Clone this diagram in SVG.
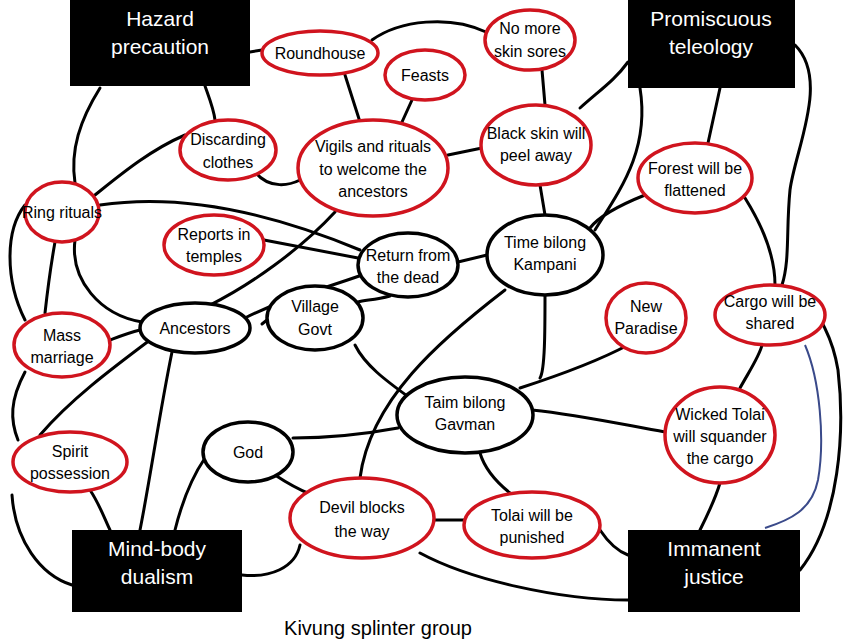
<svg xmlns="http://www.w3.org/2000/svg" width="850" height="640" viewBox="0 0 850 640">
<style>
.c{fill:none;stroke:#000;stroke-width:3;stroke-linecap:round}
.r{fill:#fff;stroke:#d0141e;stroke-width:3.5}
.k{fill:#fff;stroke:#000;stroke-width:3.5}
.b{fill:#000}
text{font-family:"Liberation Sans",Arial,sans-serif;font-size:16px;text-anchor:middle;fill:#000}
.w{fill:#fff;font-size:21px}
</style>
<rect width="850" height="640" fill="#fff"/>
<g id="connectors">
<path class="c" d="M100,88 C80,120 70,150 75,183"/>
<path class="c" d="M250,52 L262,50"/>
<path class="c" d="M345,75 L360,122"/>
<path class="c" d="M412,100 L402,122"/>
<path class="c" d="M372,40 C400,20 450,15 486,32"/>
<path class="c" d="M542,70 L545,105"/>
<path class="c" d="M580,108 C600,90 615,80 628,62"/>
<path class="c" d="M448,155 L482,148"/>
<path class="c" d="M720,88 L708,143"/>
<path class="c" d="M795,45 C830,80 795,150 790,190 C786,230 790,260 782,285"/>
<path class="c" d="M645,195 C620,205 600,215 590,228"/>
<path class="c" d="M745,198 C765,230 775,260 775,285"/>
<path class="c" d="M487,255 L458,262"/>
<path class="c" d="M358,258 L264,240"/>
<path class="c" d="M360,250 C300,225 200,190 100,205"/>
<path class="c" d="M185,135 C150,150 120,175 95,195"/>
<path class="c" d="M255,172 C270,190 290,185 300,180"/>
<path class="c" d="M335,212 C300,250 250,285 210,305"/>
<path class="c" d="M362,275 C320,290 280,300 245,318"/>
<path class="c" d="M390,296 C375,300 365,300 358,302"/>
<path class="c" d="M505,290 C440,340 370,400 360,478"/>
<path class="c" d="M545,295 C545,330 545,370 540,378"/>
<path class="c" d="M545,215 L540,185"/>
<path class="c" d="M628,345 C600,360 560,375 520,388"/>
<path class="c" d="M532,410 C580,415 625,425 665,432"/>
<path class="c" d="M480,453 C485,470 500,485 510,493"/>
<path class="c" d="M398,428 C360,435 320,438 293,438"/>
<path class="c" d="M410,398 C385,380 365,365 355,345"/>
<path class="c" d="M740,388 C750,370 760,355 762,345"/>
<path class="c" d="M720,483 C715,500 705,520 700,530"/>
<path class="c" d="M600,530 C610,545 620,552 628,555"/>
<path class="c" d="M434,520 L464,520"/>
<path class="c" d="M275,475 C290,485 300,490 312,495"/>
<path class="c" d="M205,458 C190,480 180,510 175,530"/>
<path class="c" d="M242,575 C270,578 295,568 300,545"/>
<path class="c" d="M172,352 C160,410 150,480 140,530"/>
<path class="c" d="M150,340 C110,370 70,400 40,435"/>
<path class="c" d="M140,330 C128,333 118,337 110,340"/>
<path class="c" d="M55,242 C50,270 47,295 45,313"/>
<path class="c" d="M75,240 C70,280 100,315 142,322"/>
<path class="c" d="M25,205 C5,230 5,280 25,320"/>
<path class="c" d="M90,490 C100,505 105,520 110,530"/>
<path class="c" d="M25,372 C10,400 10,420 18,440"/>
<path class="c" d="M800,570 C840,520 845,430 838,370 C833,340 825,330 822,322"/>
<path class="c" d="M628,600 C560,600 470,580 420,553"/>
<path class="c" d="M72,585 C40,575 15,540 12,495"/>
<path class="c" d="M267,320 L262,324"/>
<path class="c" d="M205,86 C210,100 214,110 215,120"/>
<path class="c" d="M595,230 C620,190 650,150 640,88"/>
<path fill="none" stroke="#3a4a8a" stroke-width="2" d="M805,345 C820,380 825,440 818,480 C812,510 790,520 765,528"/>
</g>
<g id="hazard"><rect class="b" x="70" y="0" width="180" height="86"/><text class="w" x="160" y="26">Hazard</text><text class="w" x="160" y="54">precaution</text></g>
<g id="promiscuous"><rect class="b" x="628" y="0" width="167" height="88"/><text class="w" x="711" y="26">Promiscuous</text><text class="w" x="711" y="54">teleology</text></g>
<g id="mindbody"><rect class="b" x="72" y="530" width="170" height="82"/><text class="w" x="157" y="556">Mind-body</text><text class="w" x="157" y="584">dualism</text></g>
<g id="immanent"><rect class="b" x="628" y="530" width="172" height="82"/><text class="w" x="714" y="556">Immanent</text><text class="w" x="714" y="584">justice</text></g>
<g id="roundhouse"><ellipse class="r" cx="320" cy="53" rx="58" ry="22"/><text x="320" y="59">Roundhouse</text></g>
<g id="feasts"><ellipse class="r" cx="425" cy="75" rx="40" ry="25"/><text x="425" y="81">Feasts</text></g>
<g id="skinsores"><ellipse class="r" cx="530" cy="40" rx="45" ry="30"/><text x="530" y="34">No more</text><text x="530" y="57">skin sores</text></g>
<g id="discarding"><ellipse class="r" cx="228" cy="150" rx="48" ry="30"/><text x="228" y="145">Discarding</text><text x="228" y="168">clothes</text></g>
<g id="vigils"><ellipse class="r" cx="373" cy="168" rx="75" ry="48"/><text x="373" y="152">Vigils and rituals</text><text x="373" y="175">to welcome the</text><text x="373" y="197">ancestors</text></g>
<g id="blackskin"><ellipse class="r" cx="536" cy="145" rx="55" ry="40"/><text x="536" y="139">Black skin will</text><text x="536" y="161">peel away</text></g>
<g id="forest"><ellipse class="r" cx="695" cy="178" rx="57" ry="35"/><text x="695" y="174">Forest will be</text><text x="695" y="196">flattened</text></g>
<g id="ring"><ellipse class="r" cx="62" cy="212" rx="37" ry="30"/><text x="62" y="218">Ring rituals</text></g>
<g id="reports"><ellipse class="r" cx="214" cy="245" rx="50" ry="30"/><text x="214" y="240">Reports in</text><text x="214" y="262">temples</text></g>
<g id="mass"><ellipse class="r" cx="62" cy="345" rx="48" ry="32"/><text x="62" y="341">Mass</text><text x="62" y="363">marriage</text></g>
<g id="paradise"><ellipse class="r" cx="646" cy="318" rx="40" ry="35"/><text x="646" y="312">New</text><text x="646" y="334">Paradise</text></g>
<g id="cargo"><ellipse class="r" cx="770" cy="315" rx="55" ry="30"/><text x="770" y="307">Cargo will be</text><text x="770" y="329">shared</text></g>
<g id="spirit"><ellipse class="r" cx="70" cy="462" rx="57" ry="30"/><text x="70" y="457">Spirit</text><text x="70" y="479">possession</text></g>
<g id="wicked"><ellipse class="r" cx="720" cy="435" rx="55" ry="48"/><text x="720" y="420">Wicked Tolai</text><text x="720" y="442">will squander</text><text x="720" y="464">the cargo</text></g>
<g id="devil"><ellipse class="r" cx="362" cy="518" rx="72" ry="40"/><text x="362" y="513">Devil blocks</text><text x="362" y="537">the way</text></g>
<g id="tolai"><ellipse class="r" cx="532" cy="525" rx="68" ry="33"/><text x="532" y="521">Tolai will be</text><text x="532" y="543">punished</text></g>
<g id="returndead"><ellipse class="k" cx="408" cy="265" rx="50" ry="32"/><text x="408" y="261">Return from</text><text x="408" y="283">the dead</text></g>
<g id="kampani"><ellipse class="k" cx="545" cy="255" rx="58" ry="40"/><text x="545" y="248">Time bilong</text><text x="545" y="270">Kampani</text></g>
<g id="ancestors"><ellipse class="k" cx="195" cy="328" rx="55" ry="25"/><text x="195" y="334">Ancestors</text></g>
<g id="village"><ellipse class="k" cx="315" cy="318" rx="48" ry="32"/><text x="315" y="312">Village</text><text x="315" y="335">Govt</text></g>
<g id="gavman"><ellipse class="k" cx="465" cy="415" rx="68" ry="38"/><text x="465" y="408">Taim bilong</text><text x="465" y="430">Gavman</text></g>
<g id="god"><ellipse class="k" cx="248" cy="452" rx="45" ry="30"/><text x="248" y="458">God</text></g>
<text x="378" y="635" style="font-size:20px">Kivung splinter group</text>
</svg>
